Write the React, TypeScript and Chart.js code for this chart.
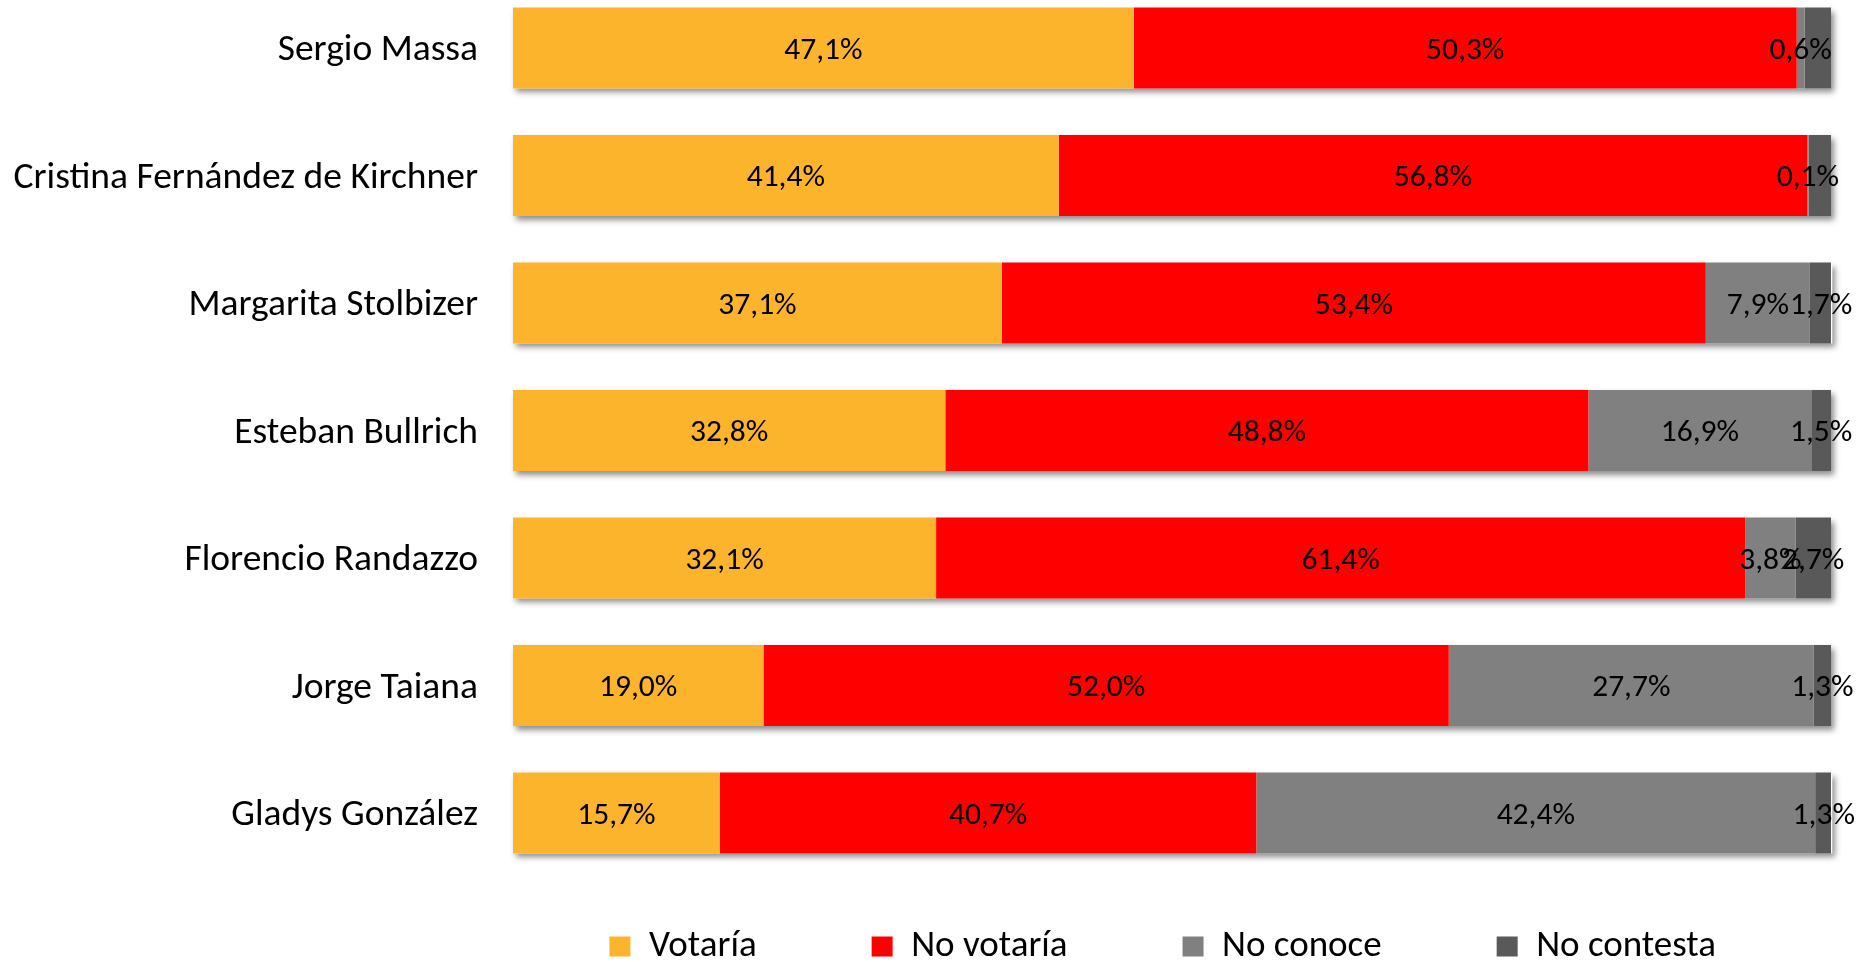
import React, { useEffect, useRef } from "react";
import { Chart, registerables } from "chart.js";

Chart.register(...registerables);

const categories = [
  "Sergio Massa",
  "Cristina Fernández de Kirchner",
  "Margarita Stolbizer",
  "Esteban Bullrich",
  "Florencio Randazzo",
  "Jorge Taiana",
  "Gladys González",
];
const seriesNames = ["Votaría", "No votaría", "No conoce", "No contesta"];
const votaria = [47.1, 41.4, 37.1, 32.8, 32.1, 19.0, 15.7];
const noVotaria = [50.3, 56.8, 53.4, 48.8, 61.4, 52.0, 40.7];
const noConoce = [0.6, 0.1, 7.9, 16.9, 3.8, 27.7, 42.4];
const noContesta = [2.0, 1.7, 1.7, 1.5, 2.7, 1.3, 1.3];
// which value labels are printed in the original (No contesta is unlabeled for the first two rows)
const votariaLabels = [true, true, true, true, true, true, true];
const noVotariaLabels = [true, true, true, true, true, true, true];
const noConoceLabels = [true, true, true, true, true, true, true];
const noContestaLabels = [false, false, true, true, true, true, true];

const seriesColors = ["#FBB42C", "#FF0000", "#808080", "#595959"];
const FONT = "Carlito, Lato, sans-serif";

const fmt = (v: number) => v.toFixed(1).replace(".", ",") + "%";

const shadowPlugin = {
  id: "barShadow",
  beforeDatasetsDraw(chart: any) {
    const ctx = chart.ctx;
    const n = chart.data.datasets.length;
    const first = chart.getDatasetMeta(0);
    const last = chart.getDatasetMeta(n - 1);
    ctx.save();
    ctx.shadowColor = "rgba(0,0,0,0.45)";
    ctx.shadowBlur = 6;
    ctx.shadowOffsetX = 3;
    ctx.shadowOffsetY = 4;
    ctx.fillStyle = "#ffffff";
    first.data.forEach((el: any, i: number) => {
      const l = el.base;
      const r = last.data[i].x;
      const h = el.height;
      ctx.fillRect(l, el.y - h / 2, r - l, h);
    });
    ctx.restore();
  },
};

const labelPlugin = {
  id: "valueLabels",
  afterDatasetsDraw(chart: any) {
    const ctx = chart.ctx;
    const shown = [votariaLabels, noVotariaLabels, noConoceLabels, noContestaLabels];
    ctx.save();
    ctx.font = `31.5px ${FONT}`;
    ctx.fillStyle = "#000000";
    ctx.textAlign = "center";
    ctx.textBaseline = "middle";
    chart.data.datasets.forEach((ds: any, di: number) => {
      const meta = chart.getDatasetMeta(di);
      meta.data.forEach((el: any, i: number) => {
        if (!shown[di][i]) return;
        const p = el.getCenterPoint();
        ctx.fillText(fmt(ds.data[i]), p.x, p.y + 3);
      });
    });
    ctx.restore();
  },
};

export default function App() {
  const canvasRef = useRef<HTMLCanvasElement | null>(null);

  useEffect(() => {
    if (!canvasRef.current) return;
    const values = [votaria, noVotaria, noConoce, noContesta];
    const chart = new Chart(canvasRef.current, {
      type: "bar",
      data: {
        labels: categories,
        datasets: seriesNames.map((name, i) => ({
          label: name,
          data: values[i],
          backgroundColor: seriesColors[i],
          borderWidth: 0,
          categoryPercentage: 1,
          barPercentage: 0.635,
          clip: { left: 0, right: 0, top: false, bottom: false } as any,
        })),
      },
      options: {
        indexAxis: "y",
        animation: false,
        responsive: true,
        maintainAspectRatio: false,
        layout: { padding: { top: 48, right: 44, bottom: 0, left: 0 } },
        scales: {
          x: { stacked: true, min: 0, max: 100, display: false },
          y: {
            stacked: true,
            offset: false,
            grid: { display: false, drawTicks: false },
            border: { display: false },
            ticks: {
              padding: 35,
              labelOffset: 3,
              color: "#000000",
              font: { family: FONT, size: 37.5 },
            },
            afterFit: (scale: any) => {
              scale.width = 513;
              scale.paddingTop = 0;
              scale.paddingBottom = 0;
            },
          },
        },
        plugins: {
          legend: {
            position: "bottom",
            align: "end",
            maxHeight: 149,
            labels: {
              boxWidth: 21,
              boxHeight: 20,
              padding: 115,
              color: "#000000",
              font: { family: FONT, size: 37 },
            },
          },
          tooltip: { enabled: false },
        },
      },
      plugins: [shadowPlugin, labelPlugin],
    });
    return () => chart.destroy();
  }, []);

  return (
    <div style={{ position: "absolute", left: 0, top: 0, width: 1875, height: 962, background: "#ffffff" }}>
      <canvas ref={canvasRef} />
    </div>
  );
}
